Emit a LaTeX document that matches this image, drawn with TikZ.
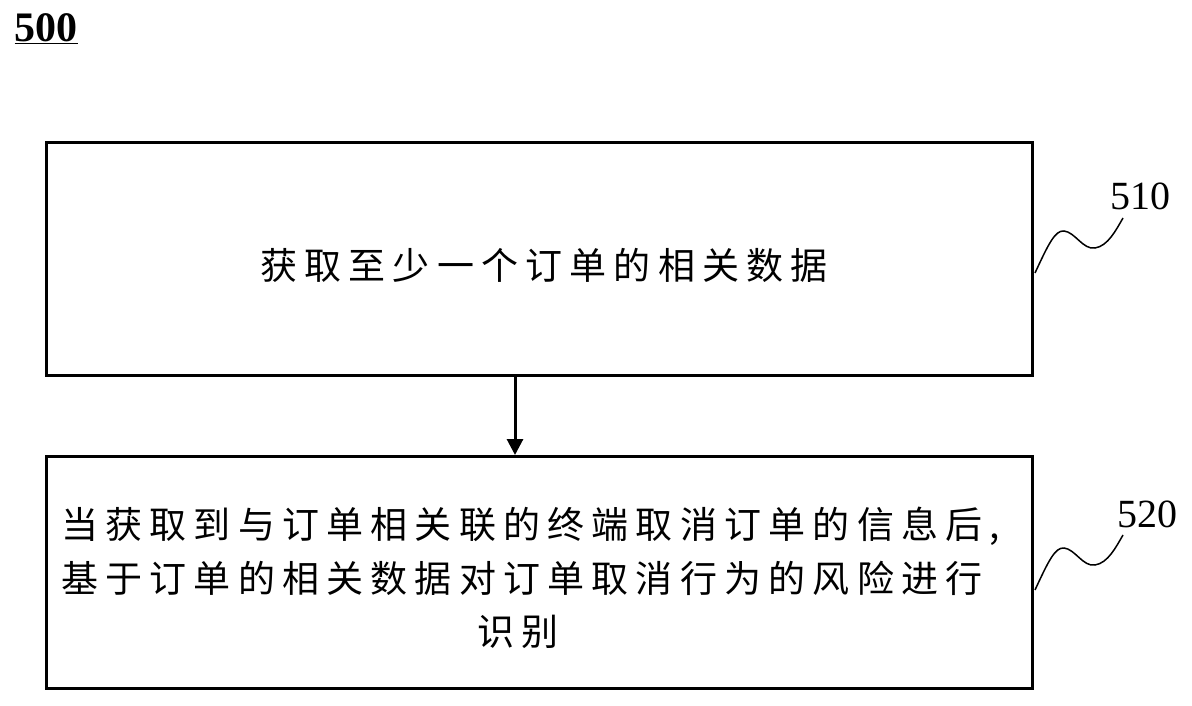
\documentclass[tikz,border=0pt]{standalone}
\usepackage{fontspec}
\setmainfont{Liberation Serif}
\newfontfamily\cjk[LetterSpace=19.5]{Noto Sans CJK SC}
\usetikzlibrary{arrows.meta}
\tikzset{
  stepbox/.style={draw, line width=3pt, minimum width=986pt, minimum height=232pt, inner sep=0pt},
  steptext/.style={font=\cjk\fontsize{37}{53.5}\selectfont, inner sep=0pt},
  squig/.style={line width=1.5pt},
  reflabel/.style={font=\fontsize{40}{40}\selectfont, inner sep=0pt},
  flow/.style={line width=3pt, -{Triangle[length=16pt,width=16pt]}}
}
\begin{document}
\begin{tikzpicture}[x=1pt,y=-1pt]
\useasboundingbox (0,0) rectangle (1192,706);
\node[font=\bfseries\fontsize{42}{42}\selectfont, inner sep=0pt] (title) at (46,29) {\underline{500}};
\node[stepbox] (b1) at (539,259) {};
\node[stepbox] (b2) at (539,572.5) {};
\node[steptext, align=center] (t1) at (544,265) {获取至少一个订单的相关数据};
\node[steptext, align=left, anchor=west] (t2) at (61,578) {当获取到与订单相关联的终端取消订单的信息后,\\基于订单的相关数据对订单取消行为的风险进行\\\hspace*{416pt}识别};
\draw[flow] (b1.south -| 515,0) -- (b2.north -| 515,0);
\node[reflabel] (l1) at (1140,196) {510};
\node[reflabel] (l2) at (1147,514) {520};
\coordinate (s1a) at (1035,273);
\coordinate (s1b) at (1123,218);
\draw[squig] (s1a) .. controls (1048,245) and (1055,230) .. (1064,231)
  .. controls (1075,232) and (1083,250) .. (1095,248)
  .. controls (1108,246) and (1116,230) .. (s1b);
\coordinate (s2a) at (1035,590);
\coordinate (s2b) at (1123,535);
\draw[squig] (s2a) .. controls (1048,562) and (1055,547) .. (1064,548)
  .. controls (1075,549) and (1083,567) .. (1095,565)
  .. controls (1108,563) and (1116,547) .. (s2b);
\end{tikzpicture}
\end{document}
